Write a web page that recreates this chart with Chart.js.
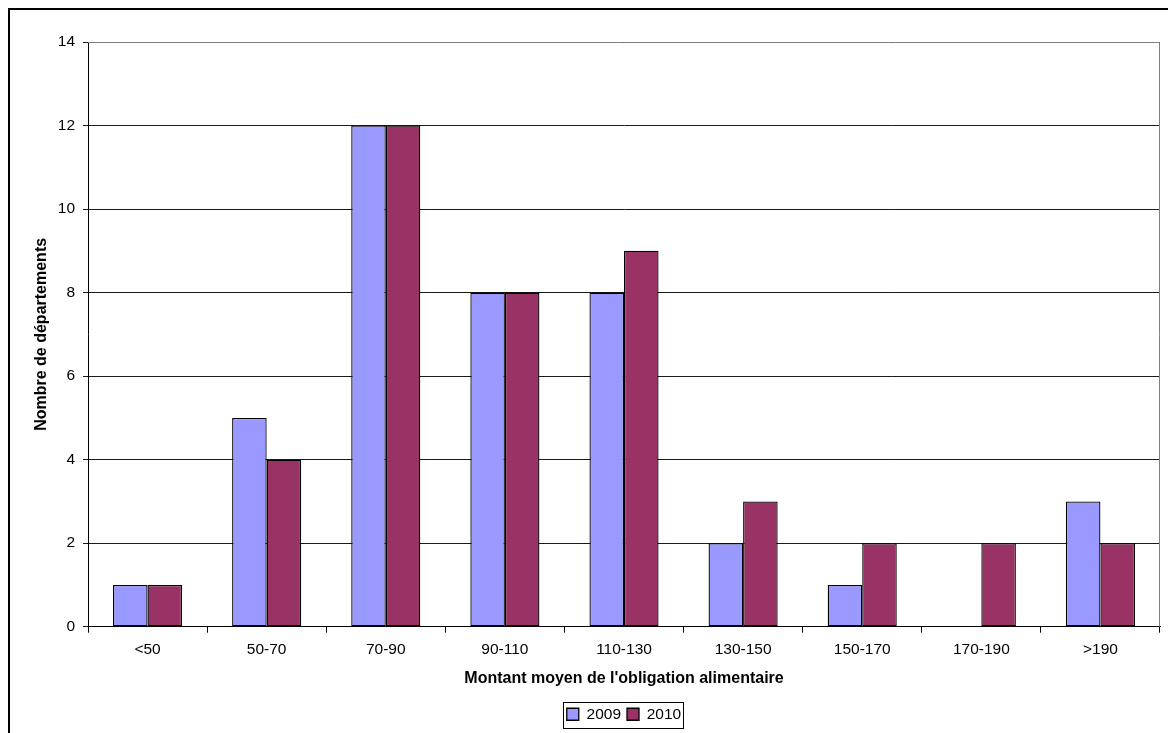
<!DOCTYPE html>
<html>
<head>
<meta charset="utf-8">
<script src="https://cdn.jsdelivr.net/npm/chart.js@4.4.0/dist/chart.umd.min.js"></script>
<style>
  html, body { margin: 0; padding: 0; background: #fff; }
  #wrap { width: 1168px; height: 733px; position: relative; }
</style>
</head>
<body>
<div id="wrap"><canvas id="obligationChart" width="1168" height="733"></canvas></div>
<script>
const categories = ['<50', '50-70', '70-90', '90-110', '110-130', '130-150', '150-170', '170-190', '>190'];
const values2009 = [1, 5, 12, 8, 8, 2, 1, 0, 3];
const values2010 = [1, 4, 12, 8, 9, 3, 2, 2, 2];
const seriesLabels = ['2009', '2010'];

Chart.defaults.font.family = '"Liberation Sans", Arial, sans-serif';
Chart.defaults.color = '#000';

// outer frame + plot area border + legend box, legend centred under the plot area
const framePlugin = {
    id: 'framePlugin',
    afterLayout(chart) {
        const lg = chart.legend;
        const a = chart.chartArea;
        if (lg) {
            const dx = (a.left + a.right) / 2 - (lg.left + lg.right) / 2;
            lg.left += dx;
            lg.right += dx;
        }
    },
    beforeDraw(chart) {
        const c = chart.ctx;
        c.save();
        c.fillStyle = '#fff';
        c.fillRect(0, 0, chart.width, chart.height);
        c.strokeStyle = '#000';
        c.lineWidth = 2;
        c.beginPath();
        c.moveTo(9, chart.height + 5);
        c.lineTo(9, 9);
        c.lineTo(chart.width + 5, 9);
        c.stroke();
        c.restore();
    },
    afterDraw(chart) {
        const c = chart.ctx;
        const a = chart.chartArea;
        c.save();
        c.strokeStyle = '#808080';
        c.lineWidth = 1;
        c.beginPath();
        c.moveTo(a.left, a.top + 0.5);
        c.lineTo(a.right - 0.5, a.top + 0.5);
        c.lineTo(a.right - 0.5, a.bottom);
        c.stroke();
        const lg = chart.legend;
        if (lg && lg.legendHitBoxes.length) {
            const boxes = lg.legendHitBoxes;
            const x0 = boxes[0].left - 4;
            const last = boxes[boxes.length - 1];
            const x1 = last.left + last.width + 2;
            const y0 = boxes[0].top - 5;
            const y1 = boxes[0].top + boxes[0].height + 5;
            c.strokeStyle = '#000';
            c.strokeRect(Math.round(x0) + 0.5, Math.round(y0) + 0.5, Math.round(x1 - x0), Math.round(y1 - y0));
        }
        c.restore();
    }
};

const ctx = document.getElementById('obligationChart').getContext('2d');
new Chart(ctx, {
    type: 'bar',
    data: {
        labels: categories,
        datasets: [{
            label: seriesLabels[0],
            data: values2009,
            backgroundColor: '#9999ff',
            borderColor: '#000',
            borderWidth: 1.3,
            borderSkipped: false,
            categoryPercentage: 0.58,
            barPercentage: 1.0
        }, {
            label: seriesLabels[1],
            data: values2010,
            backgroundColor: '#993366',
            borderColor: '#000',
            borderWidth: 1.3,
            borderSkipped: false,
            categoryPercentage: 0.58,
            barPercentage: 1.0
        }]
    },
    options: {
        responsive: false,
        animation: false,
        layout: {
            padding: { top: 42, left: 28, right: 8, bottom: 1 }
        },
        plugins: {
            tooltip: { enabled: false },
            legend: {
                display: true,
                position: 'bottom',
                labels: {
                    boxWidth: 12,
                    boxHeight: 12,
                    padding: 6,
                    font: { size: 15.5 },
                    color: '#000',
                    useBorderRadius: false
                }
            }
        },
        scales: {
            x: {
                grid: {
                    display: true,
                    offset: true,
                    drawOnChartArea: false,
                    drawTicks: true,
                    tickLength: 6,
                    color: '#000'
                },
                border: { display: true, color: '#000', width: 1 },
                ticks: { font: { size: 15.5 }, color: '#000', padding: 8, maxRotation: 0 },
                title: {
                    display: true,
                    text: "Montant moyen de l'obligation alimentaire",
                    font: { size: 16, weight: 'bold' },
                    color: '#000',
                    padding: { top: 2, bottom: 12 }
                }
            },
            y: {
                min: 0,
                max: 14,
                ticks: { stepSize: 2, font: { size: 15.5 }, color: '#000', padding: 8 },
                grid: {
                    color: '#1a1a1a',
                    tickLength: 5,
                    drawTicks: true
                },
                border: { display: true, color: '#000', width: 1 },
                title: {
                    display: true,
                    text: 'Nombre de départements',
                    font: { size: 16, weight: 'bold' },
                    color: '#000',
                    padding: { top: 4, bottom: 4 }
                },
                afterFit(scale) {
                    scale.width = 60;
                }
            }
        }
    },
    plugins: [framePlugin]
});
</script>
</body>
</html>
